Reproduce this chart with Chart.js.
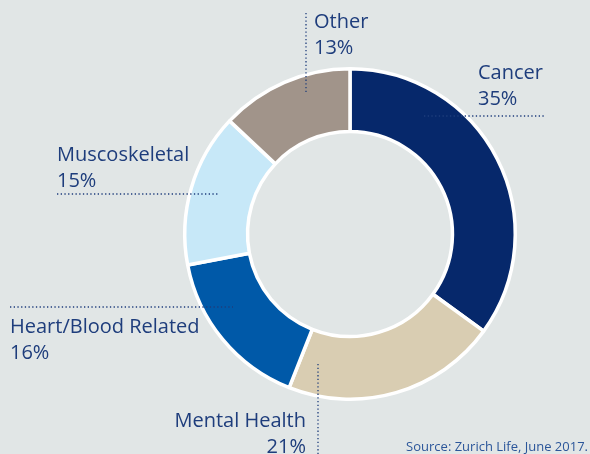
<!DOCTYPE html>
<html>
<head>
<meta charset="utf-8">
<script src="https://cdn.jsdelivr.net/npm/chart.js@4.4.0/dist/chart.umd.min.js"></script>
<style>
  html, body { margin: 0; padding: 0; background: #e1e6e6; }
  #wrap { width: 590px; height: 454px; position: relative; }
</style>
</head>
<body>
<div id="wrap"><canvas id="causes-chart" width="590" height="454"></canvas></div>
<script>
const categories = ['Cancer', 'Mental Health', 'Heart/Blood Related', 'Muscoskeletal', 'Other'];
const shares = [35, 21, 16, 15, 13];
const sliceColors = ['#06286b', '#d9cdb2', '#0059a8', '#c7e8f8', '#a1948a'];
const sourceNote = 'Source: Zurich Life, June 2017.';

// label placement: text anchor, alignment and leader line (dotted)
const labelLayout = [
  { x: 478, y: 79, align: 'left', line: [424, 116, 545, 116] },
  { x: 306, y: 427, align: 'right', line: [318, 364, 318, 454] },
  { x: 10, y: 333, align: 'left', line: [10, 307, 233, 307] },
  { x: 57, y: 161, align: 'left', line: [57, 194, 218, 194] },
  { x: 314, y: 28, align: 'left', line: [306, 13, 306, 93] }
];

const textColor = '#1e3d7c';

const labelPlugin = {
  id: 'sliceLabels',
  afterDraw(chart) {
    const ctx = chart.ctx;
    ctx.save();
    categories.forEach((name, i) => {
      const l = labelLayout[i];
      ctx.strokeStyle = textColor;
      ctx.lineWidth = 1.3;
      ctx.setLineDash([1.3, 2.4]);
      ctx.beginPath();
      ctx.moveTo(l.line[0], l.line[1]);
      ctx.lineTo(l.line[2], l.line[3]);
      ctx.stroke();
      ctx.setLineDash([]);
      ctx.fillStyle = textColor;
      ctx.font = '20px "Open Sans"';
      ctx.textAlign = l.align;
      ctx.textBaseline = 'alphabetic';
      ctx.fillText(name, l.x, l.y);
      ctx.fillText(shares[i] + '%', l.x, l.y + 26);
    });
    ctx.font = '13px "Open Sans"';
    ctx.fillStyle = '#2b569a';
    ctx.textAlign = 'right';
    ctx.fillText(sourceNote, 588, 451);
    ctx.restore();
  }
};

new Chart(document.getElementById('causes-chart').getContext('2d'), {
  type: 'doughnut',
  data: {
    labels: categories,
    datasets: [
      {
        data: shares,
        backgroundColor: sliceColors,
        borderColor: '#ffffff',
        borderWidth: 3.5,
        hoverOffset: 0
      }
    ]
  },
  options: {
    responsive: false,
    animation: false,
    cutout: '62%',
    layout: { padding: { left: 183, top: 67, right: 73, bottom: 53 } },
    plugins: {
      legend: { display: false },
      tooltip: { enabled: false }
    }
  },
  plugins: [labelPlugin]
});
</script>
</body>
</html>
